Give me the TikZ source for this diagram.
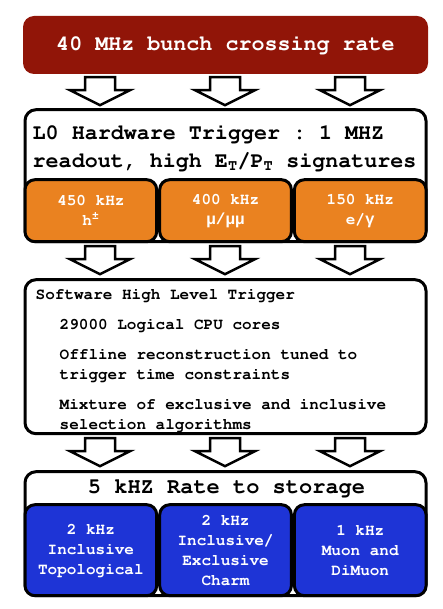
\documentclass[tikz,border=0pt]{standalone}
\usepackage[T1]{fontenc}
\usepackage{fontspec}
\newfontfamily\griego{Liberation Mono}
\usetikzlibrary{positioning}
\frenchspacing
\definecolor{rojo}{RGB}{145,21,8}
\definecolor{naranja}{RGB}{234,130,32}
\definecolor{azul}{RGB}{30,52,214}
\newcommand{\cour}{\fontencoding{T1}\fontfamily{pcr}\fontseries{b}\selectfont}
\newcommand{\grande}{\cour\fontsize{21.7}{28}\selectfont}
\newcommand{\chico}{\cour\fontsize{16}{20}\selectfont}
\newcommand{\gr}[1]{{\griego\bfseries #1}}
\tikzset{
	caja/.style={draw=black, line width=3pt, rounded corners=11pt, fill=white, minimum width=401pt, inner sep=0pt}, % Cajas grandes
	sub/.style={caja, rounded corners=10pt, minimum width=131.7pt, text=white, font=\chico, align=center,
		execute at begin node={\rule{0pt}{15pt}}}, % Cajas de colores
	texto/.style={inner sep=0pt, align=left}, % Texto suelto
	pics/flecha/.style={code={
		\draw[line width=2.5pt, fill=white] (-15,3) -- (15,3) -- (15,16) -- (30,16) -- (0,31) -- (-30,16) -- (-15,16) -- cycle;
	}} % Flecha hueca
}
\begin{document}
\begin{tikzpicture}[x=1pt, y=-1pt]
	\useasboundingbox (0,0) rectangle (442,609);
	\node[fill=rojo, rounded corners=11pt, minimum width=405pt, minimum height=58pt, text=white, font=\grande] (bx) at (225.5,45) {40 MHz bunch crossing rate};
	\node[caja, minimum height=132pt, below=34pt of bx] (hw) {};
	\node[caja, minimum height=154pt, below=35pt of hw] (hlt) {};
	\node[caja, minimum height=124pt, below=35pt of hlt] (st) {};
	% Disparo por hardware
	\node[texto, anchor=base west, font=\grande] (hwtxt) at ([shift={(9,59)}]hw.north west) {L0 Hardware Trigger : 1 MHZ\\readout, high E\textsubscript{T}/P\textsubscript{T} signatures};
	\node[sub, fill=naranja, minimum height=62pt, anchor=south west] (had) at (hw.south west) {450 kHz\\h\textsuperscript{\gr{±}}};
	\node[sub, fill=naranja, minimum height=62pt, right=0pt of had] (muo) {400 kHz\\\gr{μ/μμ}};
	\node[sub, fill=naranja, minimum height=62pt, right=0pt of muo] (ele) {150 kHz\\e/\gr{γ}};
	% Disparo por software
	\node[texto, anchor=base west, font=\chico] (hlttit) at ([shift={(12,21)}]hlt.north west) {Software High Level Trigger};
	\node[texto, anchor=base west, font=\chico] (cpu) at ([shift={(36,51)}]hlt.north west) {29000 Logical CPU cores};
	\node[texto, anchor=base west, font=\chico] (rec) at ([shift={(36,101)}]hlt.north west) {Offline reconstruction tuned to\\trigger time constraints};
	\node[texto, anchor=base west, font=\chico] (sel) at ([shift={(36,151)}]hlt.north west) {Mixture of exclusive and inclusive\\selection algorithms};
	% Almacenamiento
	\node[texto, anchor=base, font=\cour\fontsize{22}{26}\selectfont] (sttit) at ([shift={(1,23)}]st.north) {5 kHZ Rate to storage};
	\node[sub, fill=azul, minimum height=91pt, anchor=south west] (topo) at (st.south west) {2 kHz\\Inclusive\\Topological};
	\node[sub, fill=azul, minimum height=91pt, right=0pt of topo] (charm) {2 kHz\\Inclusive/\\Exclusive\\Charm};
	\node[sub, fill=azul, minimum height=91pt, right=0pt of charm] (muon) {1 kHz\\Muon and\\DiMuon};
	% Flechas entre etapas
	\foreach \cx in {100,225,350} {
		\pic at (\cx,0 |- bx.south) {flecha};
		\pic at (\cx,0 |- hw.south) {flecha};
		\pic at (\cx,0 |- hlt.south) {flecha};
	}
\end{tikzpicture}
\end{document}
